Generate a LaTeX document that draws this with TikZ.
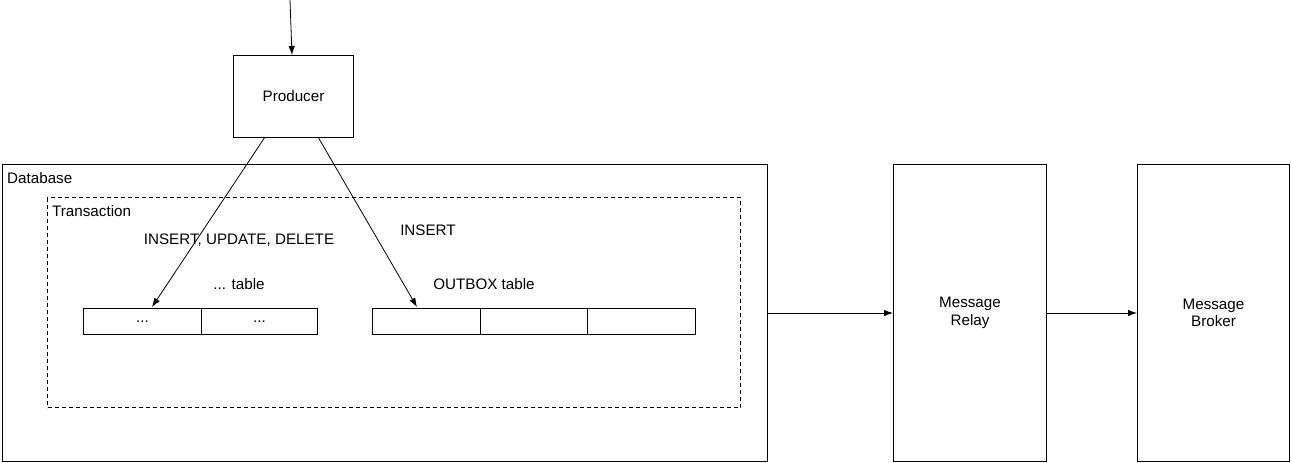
\documentclass[tikz,border=0pt]{standalone}
\usepackage{fontspec}
\setmainfont{Liberation Sans}
\usetikzlibrary{arrows.meta}
\begin{document}
\begin{tikzpicture}[x=1pt,y=-1pt,
  every node/.style={font=\fontsize{15.2}{17.5}\selectfont},
  box/.style={draw,line width=1pt,minimum width=0pt,minimum height=0pt,inner sep=0pt,anchor=north west},
  cell/.style={draw,line width=1pt,inner sep=0pt,minimum height=26pt,anchor=north west},
  lbl/.style={inner sep=0pt,anchor=west},
  txt/.style={inner sep=0pt,align=center},
  conn/.style={line width=0.8pt,-{Latex[length=9pt,width=6.5pt]}}]
\useasboundingbox (0,0) rectangle (1291,463);
% boxes
\node[box,minimum width=120pt,minimum height=82pt] (producer) at (233,55) {};
\node[txt] at (producer.center) {Producer};
\node[box,minimum width=765pt,minimum height=297pt] (db) at (2,164) {};
\node[lbl] (dblbl) at (7,178) {Database};
\node[box,dashed,dash pattern=on 4pt off 3pt,minimum width=693pt,minimum height=210pt] (tx) at (47,197) {};
\node[lbl] (txlbl) at (52,211) {Transaction};
\node[box,minimum width=153pt,minimum height=297pt] (relay) at (893,164) {};
\node[txt] at (relay.center) {Message\\Relay};
\node[box,minimum width=152pt,minimum height=297pt] (broker) at (1137,164) {};
\node[txt] at (broker.center) {Message\\Broker};
% labels
\node[txt] (iud) at (239,240) {INSERT, UPDATE, DELETE};
\node[txt] (ins) at (428,230) {INSERT};
\node[txt] (tbl) at (239,284) {... table};
\node[txt] (obt) at (484,284) {OUTBOX table};
% tables
\node[cell,minimum width=118pt] (l1) at (83,308) {};
\node[cell,minimum width=116pt] (l2) at (201,308) {};
\node[txt] at (l1.center) {...};
\node[txt] at (l2.center) {...};
\node[cell,minimum width=108pt] (r1) at (372,308) {};
\node[cell,minimum width=107pt] (r2) at (480,308) {};
\node[cell,minimum width=108pt] (r3) at (587,308) {};
% connectors
\coordinate (src) at (290,0);
\coordinate (ptop) at (292,55);
\coordinate (pl) at (265,137);
\coordinate (pr) at (318,137);
\coordinate (tl) at (152,307);
\coordinate (tr) at (417,307);
\draw[conn] (src) -- (ptop);
\draw[conn] (pl) -- (tl);
\draw[conn] (pr) -- (tr);
\draw[conn] (db.east |- 0,313) -- (relay.west |- 0,313);
\draw[conn] (relay.east |- 0,313) -- (broker.west |- 0,313);
\end{tikzpicture}
\end{document}
